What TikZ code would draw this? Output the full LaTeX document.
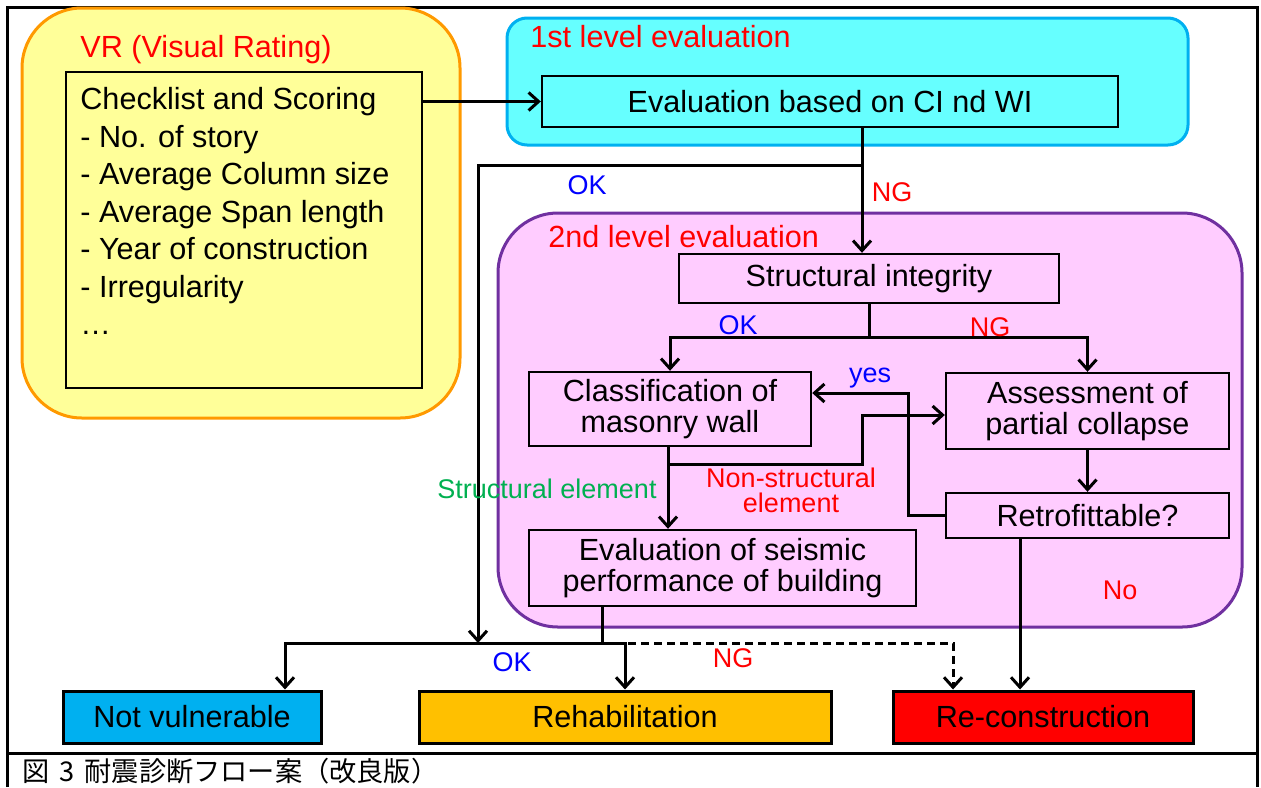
\documentclass[tikz,border=0pt]{standalone}
\usepackage{fontspec}
\setmainfont{Liberation Sans}
\newfontfamily\cjk{Noto Sans CJK JP}
\usetikzlibrary{arrows.meta}
\definecolor{vryellow}{HTML}{FFFF99}
\definecolor{vrorange}{HTML}{FF9900}
\definecolor{lvcyan}{HTML}{66FFFF}
\definecolor{lvblue}{HTML}{00B0F0}
\definecolor{lvpink}{HTML}{FFCCFF}
\definecolor{lvpurple}{HTML}{7030A0}
\definecolor{okgreen}{HTML}{00B050}
\definecolor{rhorange}{HTML}{FFC000}
\begin{document}
\begin{tikzpicture}[x=0.5pt,y=-0.5pt,>={Straight Barb[length=5pt,width=9pt]},
  big/.style={font=\fontsize{15.3}{15.5}\selectfont},
  lbl/.style={font=\fontsize{13.5}{14}\selectfont,inner sep=0pt},
  box/.style={draw,line width=1.2pt,big,align=center,inner sep=0pt},
  endbox/.style={box,line width=1.5pt,minimum height=26pt},
  arr/.style={->,line width=1.5pt},
  group/.style={line width=1.5pt,rounded corners=#1}]
\useasboundingbox (0,0) rectangle (1261,787);
\draw[line width=1.5pt] (7,787) -- (7,7) -- (1257,7) -- (1257,787);
\draw[line width=1.5pt] (7,753) -- (1257,753);

% groups
\draw[group=30pt,draw=vrorange,fill=vryellow] (22,8) rectangle (460,418);
\draw[group=10pt,draw=lvblue,fill=lvcyan] (507,18) rectangle (1188,145);
\draw[group=30pt,draw=lvpurple,fill=lvpink] (498,213) rectangle (1242,627);
\node[big,red,anchor=west,inner sep=0pt] (vrtitle) at (80,50) {VR (Visual Rating)};
\node[big,red,anchor=west,inner sep=0pt] (lv1title) at (530,37) {1st level evaluation};
\node[big,red,anchor=west,inner sep=0pt] (lv2title) at (548,237) {2nd level evaluation};

% boxes
\node[box,minimum width=178pt,minimum height=158pt] (vrbox) at (244,230) {};
\node[anchor=north west,inner sep=0pt,align=left,font=\fontsize{15.3}{18.75}\selectfont] (vrlist) at (80,87)
  {Checklist and Scoring\\- No. of story\\- Average Column size\\- Average Span length\\- Year of construction\\- Irregularity\\…};
\node[box,fill=lvcyan,minimum width=288pt,minimum height=25.5pt] (eval1) at (830,101.5) {Evaluation based on CI nd WI};
\node[box,minimum width=190pt,minimum height=24.5pt] (si) at (869,278.5) {Structural integrity};
\node[box,minimum width=141pt,minimum height=37pt] (cw) at (670,409) {Classification of\\masonry wall};
\node[box,minimum width=141.5pt,minimum height=38pt] (ap) at (1087.5,411) {Assessment of\\partial collapse};
\node[box,minimum width=141.5pt,minimum height=22.5pt] (rf) at (1087.5,515.5) {Retrofittable?};
\node[box,minimum width=193.5pt,minimum height=38pt] (sp) at (722.5,568) {Evaluation of seismic\\performance of building};
\node[endbox,fill=lvblue,minimum width=129pt] (nv) at (192,717) {Not vulnerable};
\node[endbox,fill=rhorange,minimum width=206pt] (rh) at (625,717) {Rehabilitation};
\node[endbox,fill=red,minimum width=150pt] (rc) at (1043,717) {Re-construction};

% connectors
\coordinate (split1) at (862,165);
\coordinate (okend) at (478,643);
\coordinate (sibr) at (si.south |- 0,337);
\coordinate (spbr) at (602,643);
\draw[arr] (vrbox.east |- eval1.west) -- (eval1.west);
\draw[arr] (eval1.south -| split1) -- (si.north -| split1);
\draw[arr] (split1) -| (okend);
\draw[line width=1.5pt] (si.south) -- (sibr);
\draw[arr] (sibr) -| (cw.north);
\draw[arr] (sibr) -| (ap.north);
\draw[arr] (ap.south) -- (rf.north);
\draw[arr] (rf.west) -| (908,393) -- (cw.east |- 0,393);
\draw[arr] (cw.south -| 668,0) -- (sp.north -| 668,0);
\draw[arr] (668,464) -- (862,464) -- (862,415) -- (ap.west |- 0,415);
\draw[line width=1.5pt] (sp.south -| spbr) -- (spbr);
\draw[arr] (spbr) -| (nv.north -| 285,0);
\draw[arr] (spbr) -| (rh.north);
\draw[arr,dash pattern=on 4pt off 2.5pt] (spbr) -| (rc.north -| 953,0);
\draw[arr] (rf.south -| 1020,0) -- (rc.north -| 1020,0);

% labels
\node[lbl,blue] (ok1) at (587,185) {OK};
\node[lbl,red] (ng1) at (892,192) {NG};
\node[lbl,blue] (ok2) at (738,325) {OK};
\node[lbl,red] (ng2) at (990,327) {NG};
\node[lbl,blue] (yes) at (870,378) {yes};
\node[lbl,okgreen] (stel) at (547,489) {Structural element};
\node[lbl,red,align=center,font=\fontsize{13.5}{12.5}\selectfont] (nsel) at (791,490) {Non-structural\\element};
\node[lbl,red] (no) at (1120,590) {No};
\node[lbl,blue] (ok3) at (512,662) {OK};
\node[lbl,red] (ng3) at (733,658) {NG};

\node[anchor=west,inner sep=0pt,font=\cjk\fontsize{13.6}{14}\selectfont] (cap) at (22,771) {図\hspace{5pt}3\hspace{5pt}耐震診断フロー案（改良版）};
\end{tikzpicture}
\end{document}
